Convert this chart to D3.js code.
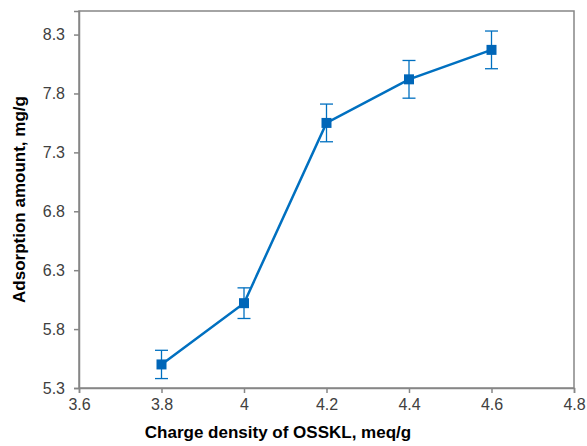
<!DOCTYPE html>
<html>
<head>
<meta charset="utf-8">
<style>
html, body { margin: 0; padding: 0; background: #fff; }
text { font-family: "Liberation Sans", Arial, sans-serif; fill: #404040; }
.title { font-weight: bold; fill: #000; }
</style>
<script src="https://cdn.jsdelivr.net/npm/d3@7"></script>
</head>
<body>
<script>
// charge density (meq/g), adsorption (mg/g), error bar half-length
var chargeDensity = [3.8, 4.0, 4.2, 4.4, 4.6];
var adsorption = [5.50, 6.02, 7.55, 7.92, 8.17];
var errorBar = [0.12, 0.13, 0.16, 0.16, 0.16];

var xTicks = [3.6, 3.8, 4.0, 4.2, 4.4, 4.6, 4.8];
var yTicks = [5.3, 5.8, 6.3, 6.8, 7.3, 7.8, 8.3];

var w = 587, h = 446;
var mLeft = 79, mRight = 574, mTop = 11, mBottom = 388;

var svg = d3.select("body").append("svg")
    .attr("width", w)
    .attr("height", h);

var x = d3.scaleLinear().domain([3.6, 4.8]).range([mLeft, mRight]);
var y = d3.scaleLinear().domain([5.3, 8.5]).range([mBottom, mTop]);

// plot frame
svg.append("rect")
    .attr("x", mLeft).attr("y", mTop)
    .attr("width", mRight - mLeft).attr("height", mBottom - mTop)
    .attr("fill", "none")
    .attr("stroke", "#868686")
    .attr("stroke-width", 1.5);

var xAxis = svg.append("g")
    .attr("transform", "translate(0," + mBottom + ")")
    .call(d3.axisBottom(x).tickValues(xTicks).tickSize(5).tickPadding(6)
        .tickFormat(function(d) { return String(+d.toFixed(1)); }));

var yAxis = svg.append("g")
    .attr("transform", "translate(" + mLeft + ",0)")
    .call(d3.axisLeft(y).tickValues(yTicks).tickSize(5).tickPadding(9)
        .tickFormat(d3.format(".1f")));

[xAxis, yAxis].forEach(function(g) {
  g.select(".domain").attr("stroke", "#868686").attr("stroke-width", 1.5);
  g.selectAll(".tick line").attr("stroke", "#868686").attr("stroke-width", 1.5);
  g.selectAll(".tick text")
      .style("font-family", "'Liberation Sans', Arial, sans-serif")
      .style("font-size", "16px")
      .attr("fill", "#404040");
});

var pts = chargeDensity.map(function(d, i) {
  return {x: d, y: adsorption[i], e: errorBar[i]};
});

var blue = "#0070C0";

// error bars
var eb = svg.append("g").attr("stroke", blue).attr("stroke-width", 1.3);
pts.forEach(function(p) {
  eb.append("line")
      .attr("x1", x(p.x)).attr("x2", x(p.x))
      .attr("y1", y(p.y - p.e)).attr("y2", y(p.y + p.e));
  [p.y - p.e, p.y + p.e].forEach(function(v) {
    eb.append("line")
        .attr("x1", x(p.x) - 6.5).attr("x2", x(p.x) + 6.5)
        .attr("y1", y(v)).attr("y2", y(v));
  });
});

svg.append("path")
    .datum(pts)
    .attr("fill", "none")
    .attr("stroke", blue)
    .attr("stroke-width", 2.5)
    .attr("d", d3.line().x(function(d) { return x(d.x); }).y(function(d) { return y(d.y); }));

svg.selectAll("rect.marker")
    .data(pts)
  .enter().append("rect")
    .attr("class", "marker")
    .attr("x", function(d) { return x(d.x) - 5; })
    .attr("y", function(d) { return y(d.y) - 5; })
    .attr("width", 10).attr("height", 10)
    .attr("fill", "#0066B8");

svg.append("text")
    .attr("class", "title")
    .attr("x", 278).attr("y", 438)
    .attr("text-anchor", "middle")
    .style("font-size", "17px")
    .text("Charge density of OSSKL, meq/g");

svg.append("text")
    .attr("class", "title")
    .attr("transform", "translate(25," + ((mTop + mBottom) / 2) + ") rotate(-90)")
    .attr("text-anchor", "middle")
    .style("font-size", "17px")
    .text("Adsorption amount, mg/g");
</script>
</body>
</html>
